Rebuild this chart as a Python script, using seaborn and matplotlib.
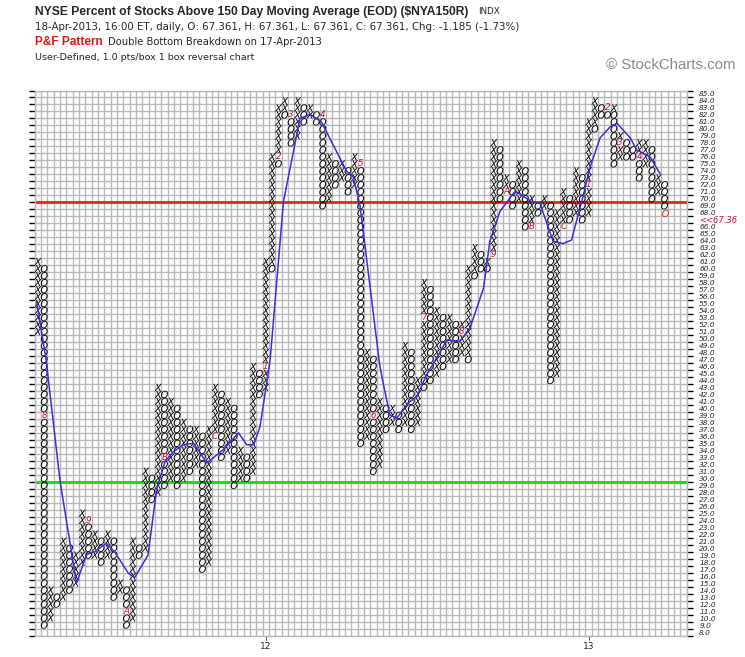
import matplotlib
matplotlib.use("Agg")
import matplotlib.pyplot as plt
import seaborn as sns
import pandas as pd

sns.set_theme(style="white")
plt.rcParams['font.family'] = ['DejaVu Sans']

# P&F columns: column number, X or O, lowest box, highest box
col_idx = [0, 1, 2, 3, 4, 5, 6, 7, 8, 9, 10, 11, 12, 13, 14, 15, 16, 17,
           18, 19, 20, 21, 22, 23, 24, 25, 26, 27, 28, 29, 30, 31, 32, 33, 34, 35,
           36, 37, 37, 38, 38, 39, 39, 40, 41, 42, 43, 44, 45, 46, 47, 48, 49, 50,
           51, 52, 53, 54, 55, 56, 57, 58, 59, 60, 61, 61, 62, 63, 64, 65, 66, 67,
           68, 68, 69, 69, 70, 71, 71, 72, 73, 74, 75, 76, 77, 78, 79, 80, 81, 82,
           83, 84, 85, 86, 87, 88, 88, 89, 90, 91, 91, 92, 93, 94, 95, 95, 96, 97,
           98, 99]
col_kind = ['X', 'O', 'X', 'O', 'X', 'O', 'X', 'X', 'O', 'X', 'O', 'X', 'O', 'X', 'O', 'X', 'O', 'X',
            'O', 'X', 'O', 'X', 'O', 'X', 'O', 'X', 'O', 'X', 'X', 'O', 'X', 'O', 'X', 'O', 'X', 'O',
            'X', 'O', 'X', 'O', 'X', 'O', 'X', 'O', 'X', 'O', 'X', 'O', 'O', 'X', 'O', 'X', 'O', 'X',
            'O', 'X', 'O', 'X', 'O', 'X', 'O', 'X', 'O', 'X', 'O', 'X', 'O', 'X', 'O', 'X', 'O', 'X',
            'O', 'X', 'O', 'X', 'O', 'O', 'X', 'X', 'O', 'X', 'O', 'X', 'O', 'X', 'O', 'X', 'O', 'X',
            'X', 'O', 'X', 'O', 'X', 'O', 'X', 'O', 'O', 'X', 'O', 'X', 'O', 'O', 'O', 'X', 'X', 'O',
            'X', 'O']
col_low = [51, 9, 10, 12, 13, 14, 15, 18, 19, 19, 18, 19, 13, 14, 9, 10, 19, 20,
           27, 28, 29, 30, 29, 30, 31, 32, 17, 18, 37, 33, 34, 29, 30, 30, 31, 42,
           43, 60, 61, 75, 77, 82, 83, 78, 79, 81, 82, 81, 69, 70, 72, 73, 71, 72,
           35, 36, 31, 32, 37, 38, 37, 38, 37, 38, 43, 45, 44, 45, 46, 47, 47, 48,
           47, 48, 59, 60, 60, 60, 61, 63, 70, 72, 69, 70, 66, 67, 68, 69, 44, 45,
           67, 67, 68, 67, 68, 80, 81, 82, 82, 83, 75, 76, 76, 76, 73, 77, 75, 70,
           71, 69]
col_high = [61, 60, 14, 13, 21, 20, 19, 25, 24, 22, 21, 22, 21, 15, 14, 21, 20, 31,
            30, 43, 42, 41, 40, 38, 37, 37, 36, 37, 43, 42, 41, 40, 34, 33, 46, 45,
            61, 60, 76, 75, 83, 82, 84, 81, 84, 83, 83, 82, 81, 76, 75, 75, 74, 76,
            74, 48, 47, 41, 40, 40, 39, 49, 48, 44, 44, 58, 57, 54, 53, 53, 52, 52,
            47, 60, 59, 63, 62, 60, 61, 78, 77, 73, 72, 75, 74, 70, 69, 70, 69, 68,
            71, 70, 74, 73, 81, 80, 84, 83, 82, 83, 82, 79, 78, 77, 75, 78, 78, 77,
            73, 72]

# month markers written in place of a box
month_col = [1, 8, 14, 20, 28, 36, 38, 40, 45, 51, 53, 61, 67, 72, 74, 78, 83, 87, 90, 92, 95]
month_box = [39, 24, 11, 33, 36, 46, 76, 82, 82, 75, 39, 53, 51, 62, 71, 66, 66, 72, 83, 78, 76]
month_txt = ['8', '9', 'A', 'B', 'C', '1', '2', '3', '4', '5', '6', '7', '8', '9', 'A', 'B', 'C',
             '1', '2', '3', '4']

last_col = 99
last_box = 68
last_price = '<<67.36'

# moving average line
ma_col = [-0.2, 1.3, 3.5, 6.1, 7.7, 9.0, 10.8, 12.1, 14.3, 15.3, 17.4, 18.8, 20.1, 21.4, 23.0,
          24.6, 26.7, 29.3, 31.7, 33.0, 34.1, 35.1, 36.7, 38.8, 41.4, 43.0, 44.8, 48.8, 49.8,
          50.9, 54.0, 54.6, 55.6, 56.7, 58.5, 59.9, 61.4, 63.3, 64.6, 66.7, 68.3, 70.4, 71.4,
          73.0, 75.4, 78.0, 79.3, 81.4, 83.0, 84.3, 86.2, 87.2, 88.8, 90.4, 91.5, 93.6, 94.6,
          96.7, 98.3]
ma_val = [55.3, 47.0, 29.6, 15.0, 19.1, 19.5, 20.7, 19.5, 16.4, 15.8, 19.0, 28.6, 32.4, 33.8,
          34.8, 35.0, 32.2, 34.1, 36.5, 34.8, 34.8, 37.4, 47.0, 69.6, 81.5, 82.1, 81.0, 73.9,
          73.2, 69.0, 46.2, 43.4, 39.1, 38.6, 40.8, 41.7, 44.8, 47.7, 49.8, 49.6, 51.6, 57.2,
          63.9, 68.2, 71.1, 69.6, 69.4, 63.9, 63.6, 64.1, 70.6, 74.4, 78.7, 80.3, 80.8, 78.7,
          77.0, 76.0, 73.6]

year_col = [36, 87]
year_txt = ['12', '13']
box_levels = list(range(8, 86))
red_level = 69.5
green_level = 29.5

labelled = set(zip(month_col, month_box))
rows = []
for c, k, lo, hi in zip(col_idx, col_kind, col_low, col_high):
    for b in range(lo, hi + 1):
        if (c, b) in labelled or (c, b) == (last_col, last_box):
            continue
        rows.append((c, b, k))
boxes = pd.DataFrame(rows, columns=['col', 'box', 'kind'])

W, H = 745, 657
fig = plt.figure(figsize=(W / 100, H / 100), dpi=100)
ax = fig.add_axes([34.7 / W, 1 - 635.5 / H, 652.0 / W, 545.0 / H])

ax.set_xlim(-0.5, 102.5)
ax.set_ylim(7.5, 85.5)

# grid of boxes
ax.set_xticks([i + 0.5 for i in range(-1, 103)], minor=True)
ax.set_yticks([v + 0.5 for v in range(7, 86)], minor=True)
ax.grid(which='minor', color='#b8b8b8', lw=1.0)
ax.grid(which='major', visible=False)
for s in ax.spines.values():
    s.set_color('#b8b8b8')
    s.set_linewidth(1.0)

ax.axhline(red_level, color='#e8241e', lw=2, zorder=1)
ax.axhline(green_level, color='#22d022', lw=2, zorder=1)

sns.scatterplot(data=boxes, x='col', y='box', style='kind',
                markers={'X': '$X$', 'O': '$O$'}, color='black', s=28,
                linewidth=0, legend=False, ax=ax, zorder=3)
sns.scatterplot(x=[last_col], y=[last_box], marker='$O$', color='#ff1a1a', s=28,
                linewidth=0, legend=False, ax=ax, zorder=3)
sns.lineplot(x=ma_col, y=ma_val, sort=False, estimator=None, color='#3a2ee0', lw=1.1,
             ax=ax, zorder=4)

for c, b, t in zip(month_col, month_box, month_txt):
    ax.text(c, b, t, color='#cc0a3a', fontsize=6.3, style='italic',
            ha='center', va='center', zorder=5)

# axes ticks and labels
ax.set_yticks(box_levels)
ylabels = [f'{v}.0' for v in box_levels]
ylabels[box_levels.index(67)] = last_price
ax.set_yticklabels(ylabels)
ax.set_xticks(year_col)
ax.set_xticklabels(year_txt)
ax.tick_params(axis='y', which='major', left=False, right=False, labelleft=False,
               labelright=True, pad=3, labelsize=5.3)
ax.tick_params(axis='y', which='minor', left=True, right=True, length=4, width=1,
               color='black')
ax.tick_params(axis='x', which='major', bottom=True, length=3, width=0.8, color='#555555',
               labelsize=6.5, pad=2)
ax.tick_params(axis='x', which='minor', bottom=False)
for lbl in ax.get_yticklabels():
    lbl.set_style('italic')
    if lbl.get_text() == last_price:
        lbl.set_color('#cc0a3a')
        lbl.set_fontsize(6.0)
ax.set_xlabel('')
ax.set_ylabel('')

# header
fig.text(35 / W, 1 - 12 / H, 'NYSE Percent of Stocks Above 150 Day Moving Average (EOD) ($NYA150R)',
         family='Liberation Sans', weight='bold', fontsize=8.7, va='center')
fig.text(478 / W, 1 - 12 / H, 'INDX', fontsize=6.3, va='center')
fig.text(35 / W, 1 - 27 / H,
         '18-Apr-2013, 16:00 ET, daily, O: 67.361, H: 67.361, L: 67.361, C: 67.361, Chg: -1.185 (-1.73%)',
         fontsize=7.4, va='center')
fig.text(35 / W, 1 - 42 / H, 'P&F Pattern', family='Liberation Sans', weight='bold',
         color='#ee1111', fontsize=8.6, va='center')
fig.text(108 / W, 1 - 42 / H, 'Double Bottom Breakdown on 17-Apr-2013', fontsize=7.2, va='center')
fig.text(35 / W, 1 - 57 / H, 'User-Defined, 1.0 pts/box 1 box reversal chart', fontsize=6.8,
         va='center')
fig.text(735 / W, 1 - 65 / H, '\u00a9 StockCharts.com', family='Liberation Sans',
         color='#8a8a8a', fontsize=10.8, ha='right', va='center')

fig.savefig('out.png', dpi=100)
